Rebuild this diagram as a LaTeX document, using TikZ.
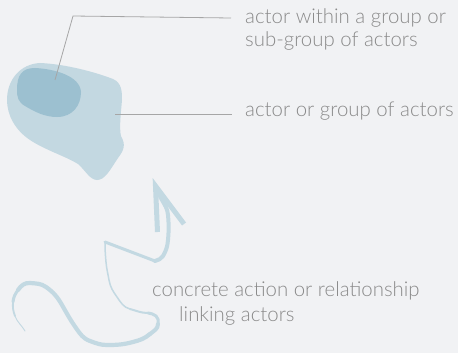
\documentclass[tikz,border=0pt]{standalone}
\usepackage{fontspec}
\IfFontExistsTF{Lato Light}{\setmainfont{Lato Light}}{\setmainfont{Lato}}
\definecolor{bg}{HTML}{F1F2F4}
\definecolor{blobout}{HTML}{C3D8E1}
\definecolor{blobin}{HTML}{9CC0D0}
\definecolor{stroke}{HTML}{C3D9E2}
\definecolor{txt}{HTML}{8A8A8A}
\definecolor{lead}{HTML}{A6A6A6}
\begin{document}
\begin{tikzpicture}[x=1pt,y=1pt,
  label/.style={inner sep=0pt, anchor=base west, text=txt, font=\fontsize{20.4}{26}\selectfont},
  leader/.style={draw=lead, line width=0.8pt},
  ink/.style={draw=stroke, line cap=round, line join=round}]
\useasboundingbox[fill=bg] (0,0) rectangle (458,-353);
% outer blob
\fill[blobout] (7,-100) .. controls (7,-80) and (20,-64) .. (40,-63)
  .. controls (65,-64) and (95,-72) .. (113,-79)
  .. controls (122,-83) and (122,-92) .. (122,-100)
  .. controls (121,-112) and (119,-128) .. (121,-136)
  .. controls (126,-145) and (124,-150) .. (118,-158)
  .. controls (110,-170) and (105,-180) .. (97,-180)
  .. controls (90,-180) and (85,-170) .. (78,-164)
  .. controls (65,-156) and (45,-150) .. (30,-140)
  .. controls (15,-130) and (7,-115) .. (7,-100) -- cycle;
% inner blob
\fill[blobin] (17,-90) .. controls (17,-75) and (22,-68) .. (35,-68)
  .. controls (55,-69) and (80,-76) .. (81,-92)
  .. controls (81,-105) and (73,-117) .. (57,-117)
  .. controls (45,-117) and (35,-112) .. (25,-106)
  .. controls (18,-102) and (17,-97) .. (17,-90) -- cycle;
% anchors for leaders
\coordinate (inner) at (55,-80);
\coordinate (bend) at (73,-16);
\coordinate (bendend) at (231,-18);
\coordinate (outer) at (115,-114);
\coordinate (outerend) at (232,-114);
\node[label] (t1) at (245,-24) {actor within a group or};
\node[label] (t2) at (245,-47) {sub-group of actors};
\node[label] (t3) at (245,-116.5) {actor or group of actors};
\node[label] (t4) at (152,-296.5) {concrete action or relationship};
\node[label] (t5) at (179,-321.5) {linking actors};
\draw[leader] (inner) -- (bend) -- (bendend);
\draw[leader] (outer) -- (outerend);
% the action stroke
\coordinate (a0) at (25,-331);
\coordinate (a1) at (15,-316);
\coordinate (a2) at (13,-302);
\coordinate (a3) at (18,-290);
\coordinate (a4) at (30,-283);
\coordinate (a5) at (46,-287);
\coordinate (a6) at (62,-305);
\coordinate (a7) at (76,-328);
\coordinate (a8) at (90,-341);
\coordinate (a9) at (107,-345);
\coordinate (a10) at (133,-342);
\coordinate (a11) at (150,-334);
\coordinate (a12) at (158,-324);
\coordinate (a13) at (156,-316);
\coordinate (a14) at (148,-313);
\coordinate (a15) at (130,-309);
\coordinate (a16) at (117,-297);
\coordinate (a17) at (109,-280);
\coordinate (a18) at (106,-262);
\coordinate (a19) at (105,-242);
\coordinate (z1) at (155,-261);
\coordinate (z2) at (163,-256);
\coordinate (z3) at (168,-240);
\coordinate (z4) at (168,-215);
\coordinate (z5) at (162,-200);
\coordinate (z6) at (157,-189);
\coordinate (hb) at (157.5,-232);
\coordinate (ht) at (155.5,-186);
\coordinate (hr) at (184,-224);
\draw[ink, line width=0.9pt] (a0) to[out=120,in=290] (a1);
\draw[ink, line width=1.8pt] (a1) to[out=110,in=265] (a2);
\draw[ink, line width=3pt] (a2) to[out=85,in=235] (a3);
\draw[ink, line width=4.2pt] (a3) to[out=55,in=175] (a4) to[out=-5,in=145] (a5)
  to[out=-35,in=120] (a6) to[out=-60,in=125] (a7) to[out=-55,in=160] (a8)
  to[out=-20,in=180] (a9) to[out=0,in=195] (a10) to[out=15,in=220] (a11);
\draw[ink, line width=4pt] (a11) to[out=40,in=270] (a12);
\draw[ink, line width=3pt] (a12) to[out=90,in=-30] (a13) to[out=150,in=0] (a14);
\draw[ink, line width=2pt] (a14) to[out=180,in=-15] (a15);
\draw[ink, line width=1.5pt] (a15) to[out=165,in=-55] (a16) to[out=125,in=-80] (a17)
  to[out=100,in=-85] (a18) to[out=95,in=-90] (a19);
\draw[ink, line width=3pt] (a19) -- (z1);
\draw[ink, line width=4pt] (z1) to[out=20,in=240] (z2) to[out=60,in=-95] (z3)
  to[out=85,in=-85] (z4) to[out=95,in=-60] (z5) to[out=120,in=-70] (z6);
\draw[draw=stroke, line width=5pt, miter limit=10] (hb) -- (ht) -- (hr);
\end{tikzpicture}
\end{document}
